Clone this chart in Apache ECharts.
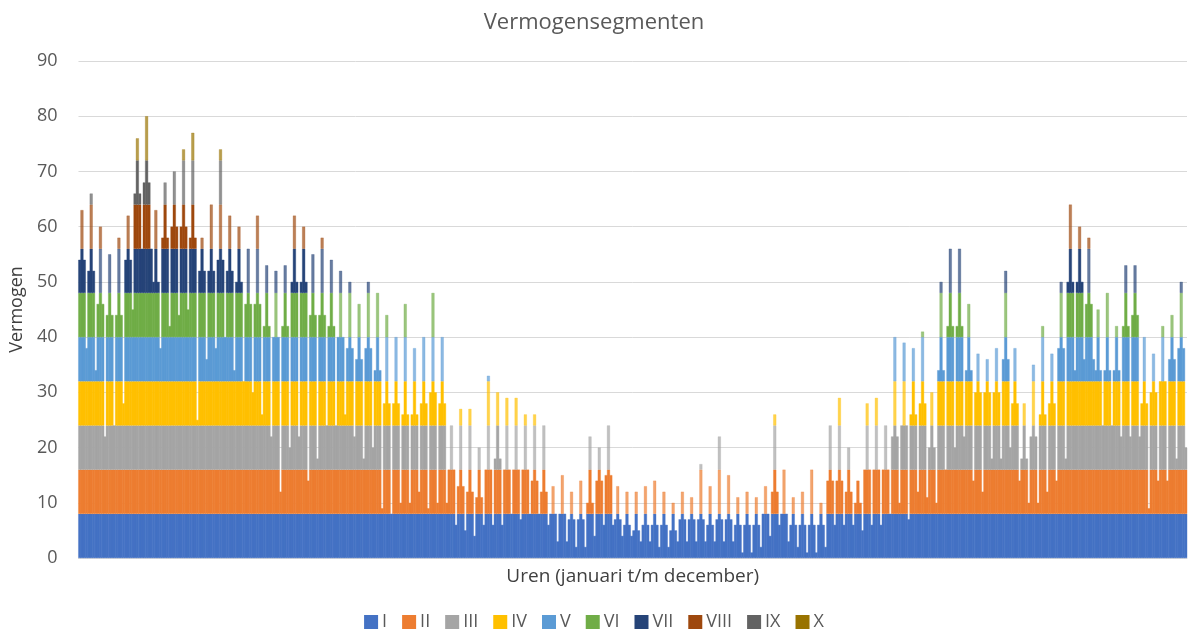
<!DOCTYPE html>
<html>
<head>
<meta charset="utf-8">
<script src="https://cdn.jsdelivr.net/npm/echarts@6/dist/echarts.min.js"></script>
<style>
  html, body { margin: 0; padding: 0; background: #fff; }
  #chart { width: 1188px; height: 632px; }
</style>
</head>
<body>
<div id="chart"></div>
<script>
const hoog = [63, 66, 60, 55, 58, 62, 76, 80, 63, 68, 70, 74, 77, 58, 64, 74, 62, 60, 56, 62,
  53, 52, 53, 62, 60, 55, 58, 54, 52, 50, 46, 50, 48, 44, 40, 46, 38, 40, 48, 40,
  24, 27, 27, 20, 33, 30, 29, 29, 26, 26, 24, 13, 15, 12, 14, 22, 20, 24, 13, 12,
  12, 13, 14, 12, 10, 12, 11, 17, 13, 22, 15, 11, 12, 11, 13, 26, 16, 11, 12, 16,
  10, 24, 29, 20, 14, 28, 29, 24, 40, 39, 38, 41, 30, 50, 56, 56, 46, 37, 36, 38,
  52, 38, 28, 35, 42, 37, 50, 64, 60, 58, 45, 48, 42, 53, 53, 40, 37, 42, 44, 50]
const basis = [54, 52, 46, 44, 44, 54, 66, 68, 50, 58, 60, 60, 58, 52, 52, 54, 52, 50, 46, 46,
  42, 40, 42, 50, 50, 44, 44, 42, 40, 38, 36, 38, 34, 28, 28, 26, 26, 28, 30, 28,
  16, 13, 12, 11, 16, 18, 16, 16, 16, 14, 12, 8, 8, 7, 7, 10, 14, 15, 7, 6,
  5, 6, 6, 6, 5, 7, 7, 7, 6, 7, 7, 6, 6, 6, 8, 12, 8, 6, 6, 6,
  6, 14, 14, 12, 10, 16, 16, 16, 22, 24, 26, 28, 20, 34, 42, 42, 34, 30, 30, 30,
  36, 28, 18, 22, 26, 28, 38, 50, 50, 46, 34, 34, 34, 42, 44, 28, 30, 32, 36, 38]
const laag = [38, 34, 22, 24, 28, 45, 56, 56, 38, 42, 44, 45, 25, 36, 38, 40, 34, 32, 30, 26,
  22, 12, 20, 22, 14, 18, 24, 24, 26, 22, 18, 20, 9, 8, 10, 10, 12, 9, 10, 10,
  6, 5, 4, 6, 6, 6, 8, 7, 8, 8, 6, 3, 3, 2, 2, 4, 6, 6, 4, 4,
  3, 3, 2, 2, 3, 3, 3, 3, 3, 3, 3, 1, 1, 2, 4, 6, 3, 2, 1, 1,
  2, 6, 6, 6, 5, 6, 6, 8, 10, 7, 12, 11, 10, 16, 20, 22, 14, 12, 18, 18,
  20, 14, 10, 10, 12, 14, 18, 34, 36, 36, 24, 24, 22, 22, 22, 9, 14, 14, 18, 20]

const segmenten = ['I', 'II', 'III', 'IV', 'V', 'VI', 'VII', 'VIII', 'IX', 'X']
const kleuren = ['#4472C4', '#ED7D31', '#A5A5A5', '#FFC000', '#5B9BD5', '#70AD47', '#264478', '#9E480E', '#636363', '#997300']
const segmentGrootte = 8

// uurlijn: per periode niveau, piek, niveau, dal
const totaal = []
const niveau = []
hoog.forEach((h, i) => {
  totaal.push(basis[i], h, basis[i], laag[i])
  niveau.push(basis[i], basis[i], basis[i], basis[i])
})
const uren = totaal.map((v, i) => i + 1)

const chart = echarts.init(document.getElementById('chart'))

const series = segmenten.map((naam, k) => {
  const onder = k * segmentGrootte
  return {
    name: naam,
    type: 'bar',
    stack: 'vermogen',
    barWidth: 3,
    color: kleuren[k],
    itemStyle: { color: kleuren[k], borderColor: kleuren[k], borderWidth: 0.4 },
    emphasis: { disabled: true },
    data: totaal.map((v, i) => {
      const deel = Math.min(segmentGrootte, v - onder)
      if (deel <= 0) return '-'
      // losse pieken boven het gangbare niveau lichter, zoals dunne uurstaafjes
      if (onder >= niveau[i]) {
        return { value: deel, itemStyle: { opacity: 0.7 } }
      }
      return deel
    }),
  }
})

const options = {
  animation: false,
  title: {
    text: 'Vermogensegmenten',
    left: 'center',
    top: 7,
    textStyle: {
      fontFamily: 'Open Sans',
      fontSize: 22,
      fontWeight: 'normal',
      color: '#595959',
    },
  },
  grid: {
    left: 77,
    right: 1,
    top: 61,
    bottom: 74,
  },
  legend: {
    bottom: -4,
    left: 'center',
    icon: 'rect',
    itemWidth: 12,
    itemHeight: 12,
    itemGap: 15,
    textStyle: {
      fontFamily: 'Open Sans',
      fontSize: 18,
      color: '#595959',
    },
    data: segmenten,
  },
  xAxis: {
    type: 'category',
    data: uren,
    name: 'Uren (januari t/m december)',
    nameLocation: 'middle',
    nameGap: 9,
    nameTextStyle: {
      fontFamily: 'Open Sans',
      fontSize: 19,
      color: '#404040',
    },
    axisLine: { show: true, lineStyle: { color: '#D9D9D9' } },
    axisTick: { show: false },
    axisLabel: { show: false },
  },
  yAxis: {
    type: 'value',
    min: 0,
    max: 90,
    interval: 10,
    name: 'Vermogen',
    nameLocation: 'middle',
    nameRotate: 90,
    nameGap: 52,
    nameTextStyle: {
      fontFamily: 'Open Sans',
      fontSize: 18,
      color: '#404040',
    },
    axisLine: { show: false },
    axisTick: { show: false },
    axisLabel: {
      margin: 21,
      fontFamily: 'Open Sans',
      fontSize: 18,
      color: '#595959',
    },
    splitLine: { lineStyle: { color: '#D9D9D9', width: 1 } },
  },
  series: series,
}

chart.setOption(options)
</script>
</body>
</html>
